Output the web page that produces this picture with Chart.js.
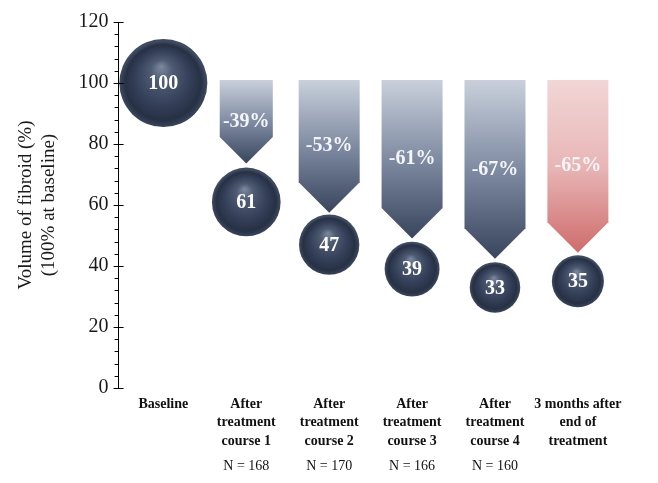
<!DOCTYPE html>
<html>
<head>
<meta charset="utf-8">
<script src="https://cdn.jsdelivr.net/npm/chart.js@4.4.1/dist/chart.umd.min.js"></script>
<style>
  html, body { margin: 0; padding: 0; background: #fff; }
  #wrap { width: 658px; height: 483px; }
</style>
</head>
<body>
<div id="wrap"><canvas id="fibroidChart"></canvas></div>
<script>
// data
const categories = [
  ['Baseline'],
  ['After', 'treatment', 'course 1'],
  ['After', 'treatment', 'course 2'],
  ['After', 'treatment', 'course 3'],
  ['After', 'treatment', 'course 4'],
  ['3 months after', 'end of', 'treatment']
];
const sampleSizes = ['', 'N = 168', 'N = 170', 'N = 166', 'N = 160', ''];
const volumes = [100, 61, 47, 39, 33, 35];
const changes = [-39, -53, -61, -67, -65];
const arrowTop = 101;
const arrowTips = [73.6, 57.5, 49, 42.4, 44.4];

const SERIF = "'Liberation Serif', 'DejaVu Serif', serif";
const X_MIN = -0.54, X_MAX = 5.52;

// sphere area follows the volume
const sphereRadius = v => 4.4 * Math.sqrt(v);

function categoryTicks(scale) {
  scale.ticks = categories.map((_, i) => ({ value: i }));
}

function sphereFill(ctx) {
  const chart = ctx.chart;
  if (ctx.type !== 'data' || !ctx.parsed || !chart.scales.x) return '#34405a';
  const cx = chart.scales.x.getPixelForValue(ctx.parsed.x);
  const cy = chart.scales.y.getPixelForValue(ctx.parsed.y);
  const r = sphereRadius(ctx.parsed.y);
  if (!isFinite(cx) || !isFinite(cy)) return '#34405a';
  const g = chart.ctx.createRadialGradient(cx - r * 0.05, cy - r * 0.38, 0, cx, cy + r * 0.05, r);
  g.addColorStop(0, '#7d899d');
  g.addColorStop(0.25, '#4e5b72');
  g.addColorStop(0.6, '#35415a');
  g.addColorStop(0.86, '#273145');
  g.addColorStop(1, '#3f4b61');
  return g;
}

// arrows are drawn from the floating bar elements, bubble labels on top of the spheres
const arrowPlugin = {
  id: 'arrows',
  beforeDatasetsDraw(chart) {
    const c = chart.ctx;
    const meta = chart.getDatasetMeta(0);
    meta.data.forEach((el, i) => {
      const w = i === 0 ? el.width * 0.87 : el.width;
      const top = Math.min(el.y, el.base);
      const tip = Math.max(el.y, el.base);
      const half = w / 2;
      const g = c.createLinearGradient(0, top, 0, tip);
      if (i === changes.length - 1) {
        g.addColorStop(0, '#f2d6d6');
        g.addColorStop(0.5, '#e8b6b6');
        g.addColorStop(1, '#cf6c6c');
      } else {
        g.addColorStop(0, '#c9d0db');
        g.addColorStop(0.5, '#7f8ba2');
        g.addColorStop(1, '#39455c');
      }
      c.save();
      c.beginPath();
      c.moveTo(el.x - half, top);
      c.lineTo(el.x + half, top);
      c.lineTo(el.x + half, tip - half);
      c.lineTo(el.x, tip);
      c.lineTo(el.x - half, tip - half);
      c.closePath();
      c.fillStyle = g;
      c.fill();
      c.font = 'bold 20px ' + SERIF;
      c.fillStyle = '#f4f5f8';
      c.textAlign = 'center';
      c.textBaseline = 'middle';
      c.fillText(changes[i] + '%', el.x, (top + tip) / 2);
      c.restore();
    });
  },
  afterDatasetsDraw(chart) {
    const c = chart.ctx;
    const meta = chart.getDatasetMeta(1);
    c.save();
    c.font = 'bold 20px ' + SERIF;
    c.fillStyle = '#ffffff';
    c.textAlign = 'center';
    c.textBaseline = 'middle';
    meta.data.forEach((el, i) => {
      c.fillText(String(volumes[i]), el.x, el.y + 1);
    });
    c.restore();
  },
  afterDraw(chart) {
    // minor ticks on the left, major ticks cross the axis
    const y = chart.scales.y;
    const c = chart.ctx;
    const ax = chart.chartArea.left;
    c.save();
    c.strokeStyle = '#000';
    c.lineWidth = 1;
    c.beginPath();
    for (let v = 0; v <= 120; v += 4) {
      const py = Math.round(y.getPixelForValue(v)) + 0.5;
      if (v % 20 === 0) {
        c.moveTo(ax, py);
        c.lineTo(ax + 5, py);
      } else {
        c.moveTo(ax - 4, py);
        c.lineTo(ax, py);
      }
    }
    c.stroke();
    c.restore();
  }
};

new Chart(document.getElementById('fibroidChart'), {
  type: 'bubble',
  data: {
    datasets: [
      {
        type: 'bar',
        data: arrowTips.map((t, i) => ({ x: i + 1, y: [t, arrowTop] })),
        backgroundColor: 'rgba(0,0,0,0)',
        barThickness: 61,
        xAxisID: 'x',
        yAxisID: 'y'
      },
      {
        type: 'bubble',
        data: volumes.map((v, i) => ({ x: i, y: v, r: sphereRadius(v) })),
        backgroundColor: sphereFill,
        borderWidth: 0,
        clip: false,
        xAxisID: 'x',
        yAxisID: 'y'
      }
    ]
  },
  options: {
    responsive: true,
    maintainAspectRatio: false,
    animation: false,
    events: [],
    layout: { autoPadding: false, padding: { top: 22, left: 13, right: 37, bottom: 7 } },
    plugins: {
      legend: { display: false },
      tooltip: { enabled: false }
    },
    scales: {
      x: {
        type: 'linear',
        position: 'bottom',
        offset: false,
        min: X_MIN,
        max: X_MAX,
        afterBuildTicks: categoryTicks,
        grid: { display: false, drawTicks: false, offset: false },
        border: { display: false },
        ticks: {
          autoSkip: false,
          maxRotation: 0,
          padding: 7,
          color: '#111',
          font: { family: SERIF, size: 14, weight: 'bold', lineHeight: 1.32 },
          callback: v => categories[v]
        }
      },
      x2: {
        type: 'linear',
        position: 'bottom',
        offset: false,
        min: X_MIN,
        max: X_MAX,
        afterBuildTicks: categoryTicks,
        grid: { display: false, drawTicks: false },
        border: { display: false },
        ticks: {
          autoSkip: false,
          maxRotation: 0,
          padding: 0,
          color: '#111',
          font: { family: SERIF, size: 14, lineHeight: 1.32 },
          callback: v => sampleSizes[v]
        }
      },
      y: {
        type: 'linear',
        min: 0,
        max: 120,
        ticks: {
          stepSize: 20,
          padding: 5,
          color: '#1a1a1a',
          font: { family: SERIF, size: 20 }
        },
        grid: { drawOnChartArea: false, tickLength: 5, color: '#000', lineWidth: 1 },
        border: { display: true, color: '#000', width: 1 },
        title: {
          display: true,
          text: ['Volume of fibroid (%)', '(100% at baseline)'],
          color: '#1a1a1a',
          font: { family: SERIF, size: 19, lineHeight: 1.2 },
          padding: { top: 2, bottom: 13 }
        }
      }
    }
  },
  plugins: [arrowPlugin]
});
</script>
</body>
</html>
